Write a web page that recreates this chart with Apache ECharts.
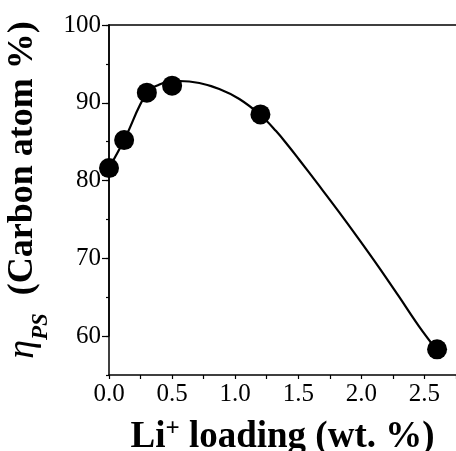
<!DOCTYPE html>
<html>
<head>
<meta charset="utf-8">
<script src="https://cdn.jsdelivr.net/npm/echarts@6/dist/echarts.min.js"></script>
<style>
html,body{margin:0;padding:0;background:#fff;}
#chart{width:456px;height:451px;}
</style>
</head>
<body>
<div id="chart"></div>
<script>
// Measured points
const loading = [0, 0.12, 0.3, 0.5, 1.2, 2.6];
const eta = [81.6, 85.2, 91.3, 92.2, 88.5, 58.3];
// Fitted curve
const curveX = [0, 0.12, 0.3, 0.4, 0.48, 0.558, 0.716, 0.874, 1.033, 1.198, 1.324, 1.427, 1.506, 1.664, 1.822, 1.98, 2.138, 2.296, 2.454, 2.6];
const curveY = [81.6, 85.2, 91.3, 92.35, 92.7, 92.8, 92.54, 91.77, 90.49, 88.46, 86.36, 84.35, 82.71, 79.37, 75.98, 72.48, 68.88, 65.13, 61.32, 58.16];
// Axis ticks
const xMin = 0, xMax = 2.75, xStep = 0.5;
const yMin = 55, yMax = 100, yMajor = 10, yMinor = 5;

const FONT = 'Liberation Serif';
const chart = echarts.init(document.getElementById('chart'), null, {renderer: 'canvas'});
const gridTop = 25, gridBottom = 76, H = 451;
const plotH = H - gridTop - gridBottom;
const bottom2 = H - (gridTop + (yMax - 60) * plotH / (yMax - yMin));

chart.setOption({
  backgroundColor: '#ffffff',
  animation: false,
  grid: [
    {left: 109, right: 0, top: gridTop, bottom: gridBottom, containLabel: false, outerBoundsMode: 'none'},
    {left: 109, right: 0, top: gridTop, bottom: bottom2, containLabel: false, outerBoundsMode: 'none'}
  ],
  xAxis: [
    {
      gridIndex: 0, type: 'value', min: xMin, max: xMax, interval: xStep,
      axisLine: {show: true, lineStyle: {color: '#000', width: 1.5}},
      axisTick: {show: true, inside: false, length: 4, lineStyle: {color: '#000', width: 1.2}},
      minorTick: {show: true, splitNumber: 2, length: 4, lineStyle: {color: '#000', width: 1.2}},
      splitLine: {show: false},
      axisLabel: {
        show: true, margin: 7, color: '#000', fontFamily: FONT, fontSize: 25,
        showMaxLabel: false,
        formatter: v => (Math.abs(v / xStep - Math.round(v / xStep)) < 1e-6 ? v.toFixed(1) : '')
      },
      name: '{a|Li}{sup|+}{a| loading (wt. %)}',
      nameLocation: 'middle', nameGap: 42,
      nameTextStyle: {
        rich: {
          a: {fontFamily: FONT, fontWeight: 'bold', fontSize: 37, color: '#000'},
          sup: {fontFamily: FONT, fontWeight: 'bold', fontSize: 25, color: '#000', verticalAlign: 'top', lineHeight: 40}
        }
      }
    },
    {
      gridIndex: 0, type: 'value', position: 'top', min: xMin, max: xMax,
      axisLine: {show: true, lineStyle: {color: '#000', width: 1.5}},
      axisTick: {show: false}, axisLabel: {show: false}, splitLine: {show: false}
    },
    {
      gridIndex: 1, type: 'value', min: xMin, max: xMax, show: false
    }
  ],
  yAxis: [
    {
      gridIndex: 0, type: 'value', min: yMin, max: yMax, interval: yMinor,
      axisLine: {show: true, lineStyle: {color: '#000', width: 1.5}},
      axisTick: {show: true, inside: false, length: 3, lineStyle: {color: '#000', width: 1.2}},
      splitLine: {show: false},
      axisLabel: {
        show: true, margin: 8, color: '#000', fontFamily: FONT, fontSize: 25,
        formatter: v => (v % yMajor === 0 ? String(v) : '')
      },
      name: '{eta|η}{ps|PS}{t|  (Carbon atom %)}',
      nameLocation: 'middle', nameRotate: 90, nameGap: 51,
      nameTextStyle: {
        rich: {
          eta: {fontFamily: FONT, fontStyle: 'italic', fontSize: 38, color: '#000', lineHeight: 42, padding: [0, 0, 0, 20]},
          ps: {fontFamily: FONT, fontStyle: 'italic', fontWeight: 'bold', fontSize: 23, color: '#000', verticalAlign: 'bottom', lineHeight: 42, padding: [0, 0, -9, 0]},
          t: {fontFamily: FONT, fontWeight: 'bold', fontSize: 36, color: '#000', lineHeight: 42}
        }
      }
    },
    {
      gridIndex: 1, type: 'value', min: 60, max: yMax, interval: yMajor,
      axisLine: {show: true, lineStyle: {color: '#000', width: 1.5}},
      axisTick: {show: true, inside: false, length: 7, lineStyle: {color: '#000', width: 1.2}},
      axisLabel: {show: false}, splitLine: {show: false}
    }
  ],
  series: [
    {
      type: 'line', xAxisIndex: 0, yAxisIndex: 0,
      data: curveX.map((x, i) => [x, curveY[i]]),
      smooth: 0.4, showSymbol: false, symbol: 'none',
      lineStyle: {color: '#000', width: 2.2}, z: 2
    },
    {
      type: 'scatter', xAxisIndex: 0, yAxisIndex: 0,
      data: loading.map((x, i) => [x, eta[i]]),
      symbol: 'circle', symbolSize: 20,
      itemStyle: {color: '#000', opacity: 1}, z: 3
    }
  ]
});
</script>
</body>
</html>
